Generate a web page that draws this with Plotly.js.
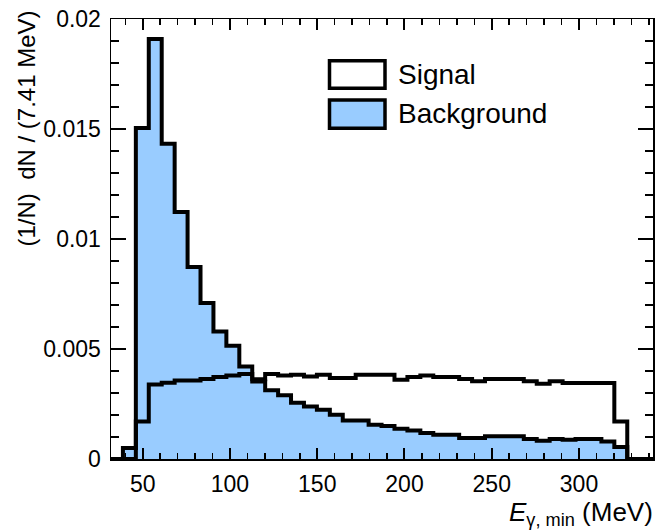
<!DOCTYPE html>
<html><head><meta charset="utf-8">
<script src="https://cdn.plot.ly/plotly-3.0.1.min.js"></script>
<style>html,body{margin:0;padding:0;background:#fff}#chart{width:661px;height:532px}</style>
</head><body><div id="chart"></div>
<script>
// Histogram binning (MeV)
const binLow = 31.25;
const binWidth = 7.41;

// Bin contents, (1/N) dN / (7.41 MeV)
const signal = [
  0, 0, 0.00171, 0.00339, 0.00347, 0.00357, 0.00357, 0.00364, 0.00373, 0.00380,
  0.00386, 0.00362, 0.00386, 0.00379, 0.00383, 0.00375, 0.00383, 0.00368, 0.00368, 0.00383,
  0.00383, 0.00383, 0.00360, 0.00373, 0.00380, 0.00373, 0.00373, 0.00364, 0.00353, 0.00364,
  0.00364, 0.00364, 0.00353, 0.00342, 0.00353, 0.00345, 0.00345, 0.00345, 0.00345, 0.00171,
  0, 0
];
const background = [
  0, 0.0005, 0.01505, 0.01909, 0.01433, 0.01123, 0.00873, 0.00709, 0.00580, 0.00515,
  0.00421, 0.00352, 0.00312, 0.00290, 0.00256, 0.00239, 0.00224, 0.00201, 0.00175, 0.00175,
  0.00156, 0.00150, 0.00138, 0.00129, 0.00118, 0.00110, 0.00110, 0.00095, 0.00095, 0.00103,
  0.00103, 0.00103, 0.00091, 0.00083, 0.00091, 0.00088, 0.00091, 0.00091, 0.00080, 0.00055,
  0, 0
];
const seriesNames = ['Signal', 'Background'];

const W = 661, H = 532;
const M = {l: 111, r: 8, t: 19, b: 73};
const pw = W - M.l - M.r, ph = H - M.t - M.b;
const px = x => (x - M.l) / pw;
const py = y => 1 - (y - M.t) / ph;

function stepXY(vals) {
  const xs = [binLow], ys = [0];
  vals.forEach((v, i) => { xs.push(binLow + i * binWidth); ys.push(v); });
  xs.push(binLow + vals.length * binWidth); ys.push(0);
  return {xs, ys};
}

const bg = stepXY(background);
const sg = stepXY(signal);
const FILL = 'rgb(153,204,255)';
const FONT = 'Liberation Sans, Arial, Helvetica, sans-serif';

const traces = [
  {x: bg.xs, y: bg.ys, type: 'scatter', mode: 'lines', name: seriesNames[1],
   line: {shape: 'hv', color: '#000', width: 4}, fill: 'tozeroy', fillcolor: FILL, hoverinfo: 'skip'},
  {x: sg.xs, y: sg.ys, type: 'scatter', mode: 'lines', name: seriesNames[0],
   line: {shape: 'hv', color: '#000', width: 4}, hoverinfo: 'skip'}
];

const axisCommon = {
  ticks: 'inside', tickcolor: '#000', tickwidth: 2,
  showline: true, linecolor: '#000', linewidth: 1.5, mirror: 'allticks',
  showgrid: false, zeroline: false,
  tickfont: {family: FONT, size: 23, color: '#000'}
};

const layout = {
  width: W, height: H, margin: M,
  paper_bgcolor: '#fff', plot_bgcolor: '#fff', showlegend: false,
  xaxis: Object.assign({}, axisCommon, {
    range: [31.83, 342.4], tickmode: 'linear', tick0: 50, dtick: 50, ticklen: 11,
    minor: {ticks: 'inside', tick0: 0, dtick: 10, ticklen: 6, tickwidth: 1.5, tickcolor: '#000', showgrid: false},
    ticklabelstandoff: 4
  }),
  yaxis: Object.assign({}, axisCommon, {
    range: [0, 0.02], tickmode: 'linear', tick0: 0, dtick: 0.005, ticklen: 15,
    minor: {ticks: 'inside', tick0: 0, dtick: 0.001, ticklen: 8, tickwidth: 1.5, tickcolor: '#000', showgrid: false},
    ticklabelstandoff: 4
  }),
  shapes: [
    {type: 'rect', xref: 'paper', yref: 'paper', x0: px(329.5), x1: px(385), y0: py(88.3), y1: py(60.7),
     line: {color: '#000', width: 3.5}, fillcolor: '#fff'},
    {type: 'rect', xref: 'paper', yref: 'paper', x0: px(329.5), x1: px(385), y0: py(128.3), y1: py(100),
     line: {color: '#000', width: 3.5}, fillcolor: FILL}
  ],
  annotations: [
    {xref: 'paper', yref: 'paper', x: px(396), y: py(74.5), xanchor: 'left', yanchor: 'middle',
     text: seriesNames[0], showarrow: false, font: {family: FONT, size: 28, color: '#000'}},
    {xref: 'paper', yref: 'paper', x: px(396), y: py(113), xanchor: 'left', yanchor: 'middle',
     text: seriesNames[1], showarrow: false, font: {family: FONT, size: 28, color: '#000'}},
    {xref: 'paper', yref: 'paper', x: px(26), y: py(128.5), xanchor: 'center', yanchor: 'middle', textangle: -90,
     text: '(1/N)  dN / (7.41 MeV)', showarrow: false, font: {family: FONT, size: 24, color: '#000'}},
    {xref: 'paper', yref: 'paper', x: px(655), y: py(513), xanchor: 'right', yanchor: 'middle',
     text: '<i>E</i><sub>γ, min</sub> (MeV)', showarrow: false, font: {family: FONT, size: 26, color: '#000'}}
  ]
};

Plotly.newPlot('chart', traces, layout, {staticPlot: true, displayModeBar: false});
</script>
</body></html>
